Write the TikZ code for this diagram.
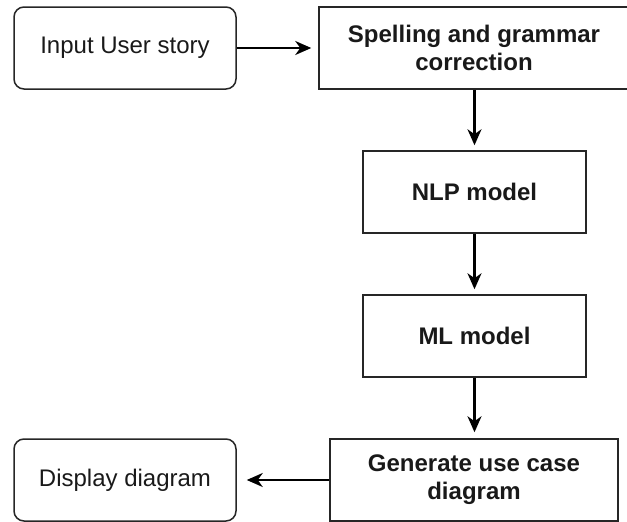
\documentclass[tikz,border=0pt]{standalone}
\usepackage{fontspec}
\setmainfont{Liberation Sans}
\usetikzlibrary{arrows.meta}
\tikzset{
  box/.style={draw=black!85, line width=1.5pt, minimum height=82pt, align=center,
    font=\fontsize{24pt}{28pt}\selectfont\bfseries, inner sep=0pt, text=black!90},
  rbox/.style={box, rounded corners=10pt, font=\fontsize{24pt}{28pt}\selectfont},
  arr/.style={line width=2.2pt, -{Stealth[length=16pt, width=14pt, inset=5pt]}}
}
\begin{document}
\begin{tikzpicture}[x=1pt,y=1pt]
\useasboundingbox (0,0) rectangle (627,-522);
\node[rbox, minimum width=222pt] (in) at (125,-48) {Input User story};
\node[box, minimum width=310pt] (sp) at (474,-48) {Spelling and grammar\\correction};
\node[box, minimum width=223pt] (nlp) at (474.5,-192) {NLP model};
\node[box, minimum width=223pt] (ml) at (474.5,-336) {ML model};
\node[box, minimum width=288pt] (gen) at (474,-480) {Generate use case\\diagram};
\node[rbox, minimum width=222pt] (disp) at (125,-480) {Display diagram};
\draw[arr, shorten >=7pt] (in.east) -- (sp.west);
\draw[arr, shorten >=5pt] (nlp.north |- sp.south) -- (nlp.north);
\draw[arr, shorten >=5pt] (ml.north |- nlp.south) -- (ml.north);
\draw[arr, shorten >=6pt] (ml.south) -- (ml.south |- gen.north);
\draw[arr, shorten >=10pt] (gen.west) -- (disp.east);
\end{tikzpicture}
\end{document}
